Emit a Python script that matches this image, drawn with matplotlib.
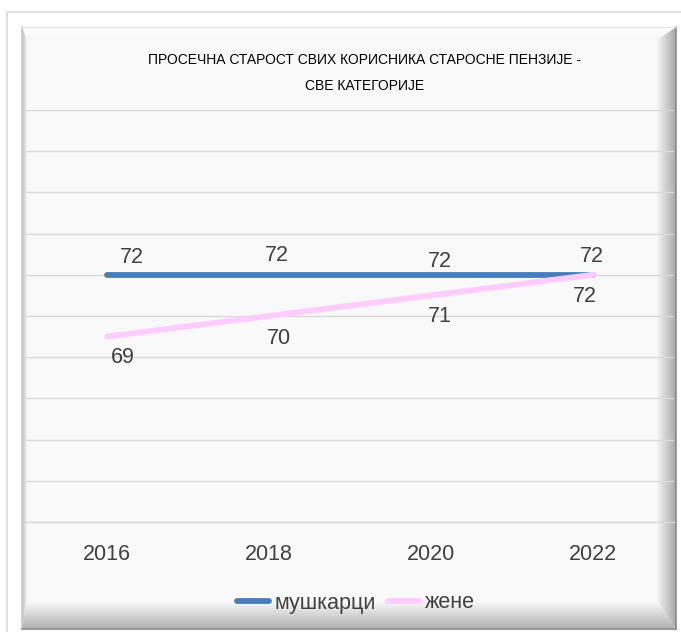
import matplotlib
matplotlib.use('Agg')
import matplotlib.pyplot as plt
import numpy as np
from matplotlib.patches import Polygon, Rectangle

# Подаци са графикона
godine = ['2016', '2018', '2020', '2022']
muskarci = [72.0, 72.0, 72.0, 72.0]
zene = [69.0, 70.0, 71.0, 72.0]
oznake_muskarci = ['72', '72', '72', '72']
oznake_zene = ['69', '70', '71', '72']
naslov = 'ПРОСЕЧНА СТАРОСТ СВИХ КОРИСНИКА СТАРОСНЕ ПЕНЗИЈЕ -\nСВЕ КАТЕГОРИЈЕ'

plt.rcParams['font.family'] = ['Liberation Sans', 'DejaVu Sans']

W, H = 681, 632
fig = plt.figure(figsize=(W / 100, H / 100), dpi=100)
fig.patch.set_facecolor('white')

#------- Позадина: оквир са косим ивицама -------#
bg = fig.add_axes([0, 0, 1, 1])
bg.set_xlim(0, W)
bg.set_ylim(H, 0)
bg.axis('off')

bg.add_patch(Rectangle((7, 12), W, H, facecolor='white', edgecolor='#d9d9d9', lw=1.2))

L, T, R, B = 22, 27, 676, 629
l, t, r, b = 27, 40, 657, 601
bg.add_patch(Rectangle((l, t), r - l, b - t, facecolor='#f9f9f9', edgecolor='none'))


def kosa_ivica(tacke, c1, c2, smer):
    poly = Polygon(tacke, closed=True, facecolor='none', edgecolor='none')
    bg.add_patch(poly)
    g = np.linspace(0, 1, 64)
    if smer == 'h':
        img = g[None, :]
    else:
        img = g[:, None]
    c1 = np.array(matplotlib.colors.to_rgb(c1))
    c2 = np.array(matplotlib.colors.to_rgb(c2))
    rgb = c1[None, None, :] * (1 - img[..., None]) + c2[None, None, :] * img[..., None]
    xs = [p[0] for p in tacke]
    ys = [p[1] for p in tacke]
    im = bg.imshow(rgb, extent=(min(xs), max(xs), max(ys), min(ys)), aspect='auto',
                   interpolation='bilinear', zorder=1)
    im.set_clip_path(poly)


kosa_ivica([(L, T), (R, T), (r, t), (l, t)], '#ffffff', '#f7f7f7', 'v')
kosa_ivica([(L, T), (l, t), (l, b), (L, B)], '#b8b8b8', '#f7f7f7', 'h')
kosa_ivica([(R, T), (R, B), (r, b), (r, t)], '#f5f5f5', '#a8a8a8', 'h')
kosa_ivica([(L, B), (R, B), (r, b), (l, b)], '#fafafa', '#b0b0b0', 'v')
bg.plot([L, L], [T, B], color='#c8c8c8', lw=1.2)
bg.plot([R, R], [T, B], color='#8c8c8c', lw=1.2)
bg.plot([L, R], [B, B], color='#8c8c8c', lw=1.2)
bg.plot([L, R], [T, T], color='#e6e6e6', lw=1.0)

#------- Графикон -------#
ax = fig.add_axes([26 / W, (H - 522) / H, (674 - 26) / W, 412 / H])
ax.set_facecolor('none')
x = np.arange(len(godine))

ax.set_xlim(-0.5, 3.5)
ax.set_ylim(60, 80)
ax.set_yticks(np.arange(60, 81, 2))
ax.yaxis.grid(True, color='#d9d9d9', lw=1.0)
ax.set_axisbelow(True)
for s in ax.spines.values():
    s.set_visible(False)
ax.spines['bottom'].set_visible(True)
ax.spines['bottom'].set_color('#d9d9d9')
ax.spines['bottom'].set_linewidth(1.0)
ax.tick_params(axis='y', length=0, labelleft=False)
ax.set_xticks(x)
ax.set_xticklabels(godine)
ax.tick_params(axis='x', length=0, pad=16, labelsize=15.5, labelcolor='#404040')

ax.plot(x, muskarci, color='#4a7ebb', lw=4.2, solid_capstyle='round', label='мушкарци', zorder=3)
ax.plot(x, zene, color='#ffccff', lw=4.2, solid_capstyle='round', label='жене', zorder=3)

# померања ознака (пиксели) као у оригиналу
pom_m = [(25, -17), (8, -19), (9, -13), (-1, -18)]
pom_z = [(16, 21), (10, 23), (9, 21), (-8, 22)]
for i in range(len(godine)):
    dx, dy = pom_m[i]
    ax.annotate(oznake_muskarci[i], (x[i], muskarci[i]), xytext=(dx * 0.72, -dy * 0.72),
                textcoords='offset points', ha='center', va='center',
                fontsize=15.5, color='#404040')
    dx, dy = pom_z[i]
    ax.annotate(oznake_zene[i], (x[i], zene[i]), xytext=(dx * 0.72, -dy * 0.72),
                textcoords='offset points', ha='center', va='center',
                fontsize=15.5, color='#404040')

fig.text(365 / W, (H - 73) / H, naslov, ha='center', va='center', fontsize=10,
         color='black', linespacing=2.0)

leg = fig.legend(loc='center', bbox_to_anchor=(356 / W, (H - 603) / H), ncol=2, frameon=False,
                 fontsize=15.5, handlelength=1.5, handletextpad=0.25, columnspacing=0.55,
                 labelcolor='#404040')
for h in leg.get_lines():
    h.set_solid_capstyle('round')

fig.savefig('out.png', dpi=100)
